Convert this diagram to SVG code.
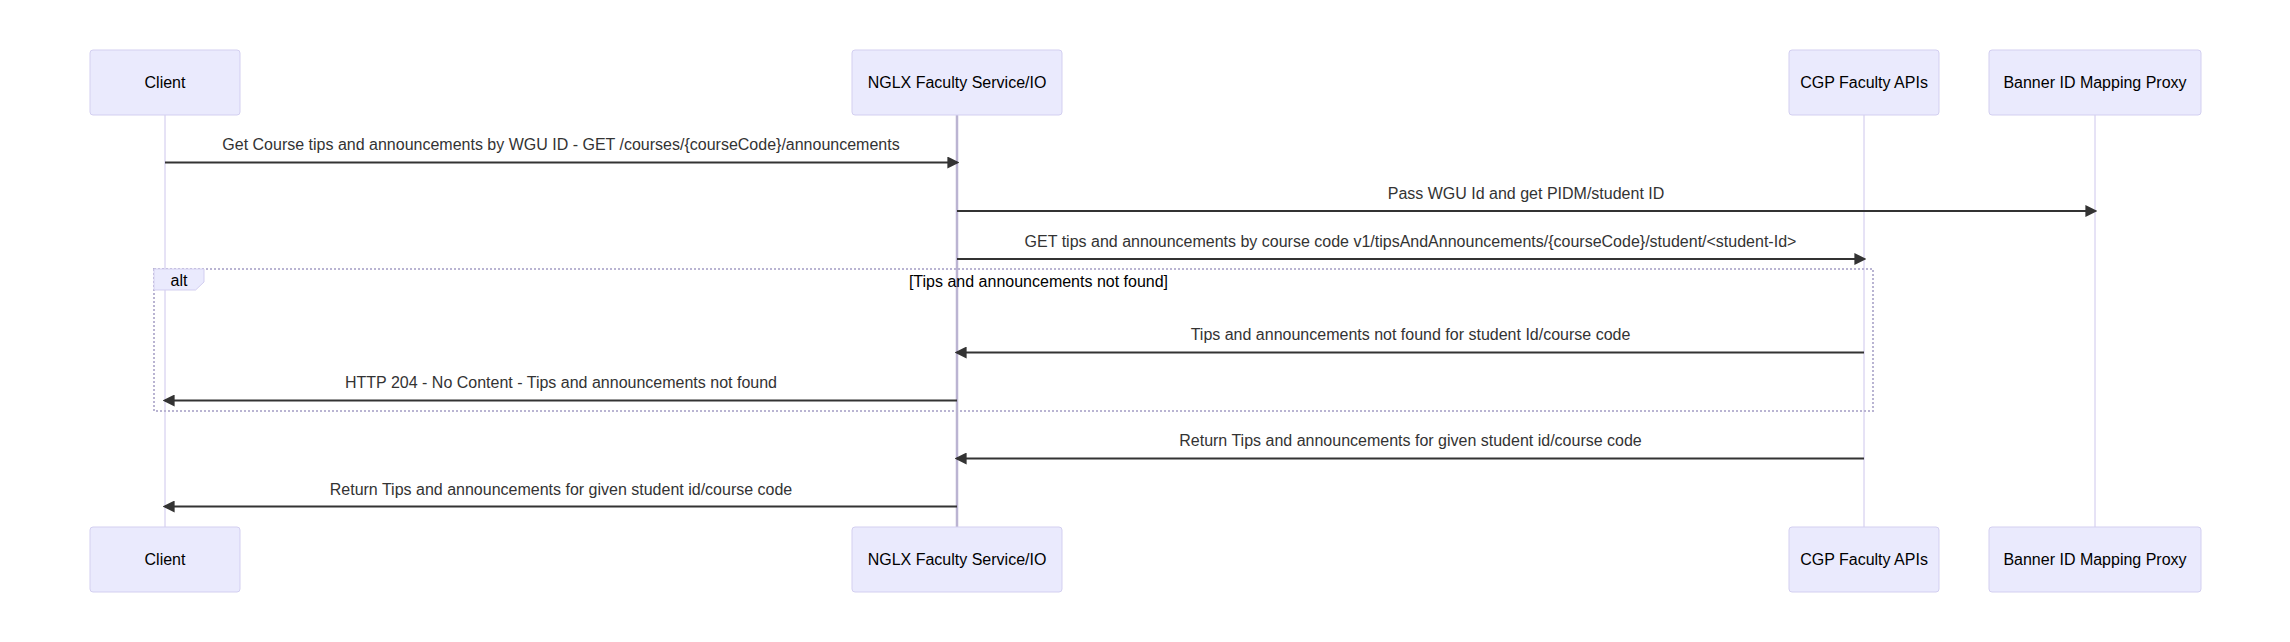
<svg xmlns="http://www.w3.org/2000/svg" width="2290" height="642" viewBox="0 0 2290 642">
<style>
  .actor { fill: #eaeafd; stroke: #d3cff0; stroke-width: 1; }
  .actor-text { font-family: "Trebuchet MS", "Liberation Sans", Arial, sans-serif; font-size: 16px; fill: #000; text-anchor: middle; dominant-baseline: central; }
  .life { stroke: #cdc6ec; stroke-width: 1; }
  .msg { stroke: #333; stroke-width: 2; fill: none; marker-end: url(#arrowhead); }
  .msg-text { font-family: "Trebuchet MS", "Liberation Sans", Arial, sans-serif; font-size: 16px; fill: #333; text-anchor: middle; }
  .loop { fill: none; stroke: #b9b4d2; stroke-width: 2; stroke-dasharray: 2 2; }
  .label-box { fill: #eaeafd; stroke: #d3cff0; stroke-width: 1; }
  .loop-text { font-family: "Trebuchet MS", "Liberation Sans", Arial, sans-serif; font-size: 16px; fill: #000; text-anchor: middle; dominant-baseline: central; }
</style>
<defs>
  <marker id="arrowhead" viewBox="0 0 10 10" refX="8" refY="5" markerUnits="userSpaceOnUse" markerWidth="12" markerHeight="12" orient="auto">
    <path d="M 0 0 L 10 5 L 0 10 z" fill="#333"/>
  </marker>
</defs>
<rect width="2290" height="642" fill="#ffffff"/>

<g id="lifelines">
  <line class="life" x1="165" y1="115" x2="165" y2="527"/>
  <line x1="957" y1="115" x2="957" y2="527" stroke="#bbb4d2" stroke-width="2.5"/>
  <line class="life" x1="1864" y1="115" x2="1864" y2="527"/>
  <line class="life" x1="2095" y1="115" x2="2095" y2="527"/>
</g>

<g id="actor-client">
  <rect class="actor" x="90" y="50" width="150" height="65" rx="3"/>
  <text class="actor-text" x="165" y="82.5">Client</text>
  <rect class="actor" x="90" y="527" width="150" height="65" rx="3"/>
  <text class="actor-text" x="165" y="559.5">Client</text>
</g>
<g id="actor-nglx">
  <rect class="actor" x="852" y="50" width="210" height="65" rx="3"/>
  <text class="actor-text" x="957" y="82.5">NGLX Faculty Service/IO</text>
  <rect class="actor" x="852" y="527" width="210" height="65" rx="3"/>
  <text class="actor-text" x="957" y="559.5">NGLX Faculty Service/IO</text>
</g>
<g id="actor-cgp">
  <rect class="actor" x="1789" y="50" width="150" height="65" rx="3"/>
  <text class="actor-text" x="1864" y="82.5">CGP Faculty APIs</text>
  <rect class="actor" x="1789" y="527" width="150" height="65" rx="3"/>
  <text class="actor-text" x="1864" y="559.5">CGP Faculty APIs</text>
</g>
<g id="actor-banner">
  <rect class="actor" x="1989" y="50" width="212" height="65" rx="3"/>
  <text class="actor-text" x="2095" y="82.5">Banner ID Mapping Proxy</text>
  <rect class="actor" x="1989" y="527" width="212" height="65" rx="3"/>
  <text class="actor-text" x="2095" y="559.5">Banner ID Mapping Proxy</text>
</g>

<g id="alt-block">
  <rect class="loop" x="154" y="269" width="1719" height="142"/>
  <polygon class="label-box" points="154,269 204,269 204,282 195.6,290 154,290"/>
  <text class="loop-text" x="179" y="280">alt</text>
  <text class="loop-text" x="1038.5" y="281">[Tips and announcements not found]</text>
</g>

<g id="connectors">
  <text class="msg-text" x="561" y="150">Get Course tips and announcements by WGU ID - GET /courses/{courseCode}/announcements</text>
  <line class="msg" x1="165" y1="162.5" x2="957" y2="162.5"/>
  <text class="msg-text" x="1526" y="198.5">Pass WGU Id and get PIDM/student ID</text>
  <line class="msg" x1="957" y1="211" x2="2095" y2="211"/>
  <text class="msg-text" x="1410.5" y="246.5">GET tips and announcements by course code v1/tipsAndAnnouncements/{courseCode}/student/&lt;student-Id&gt;</text>
  <line class="msg" x1="957" y1="259" x2="1864" y2="259"/>
  <text class="msg-text" x="1410.5" y="340">Tips and announcements not found for student Id/course code</text>
  <line class="msg" x1="1864" y1="352.5" x2="957" y2="352.5"/>
  <text class="msg-text" x="561" y="388">HTTP 204 - No Content - Tips and announcements not found</text>
  <line class="msg" x1="957" y1="400.5" x2="165" y2="400.5"/>
  <text class="msg-text" x="1410.5" y="446">Return Tips and announcements for given student id/course code</text>
  <line class="msg" x1="1864" y1="458.5" x2="957" y2="458.5"/>
  <text class="msg-text" x="561" y="494.5">Return Tips and announcements for given student id/course code</text>
  <line class="msg" x1="957" y1="506.5" x2="165" y2="506.5"/>
</g>
</svg>
